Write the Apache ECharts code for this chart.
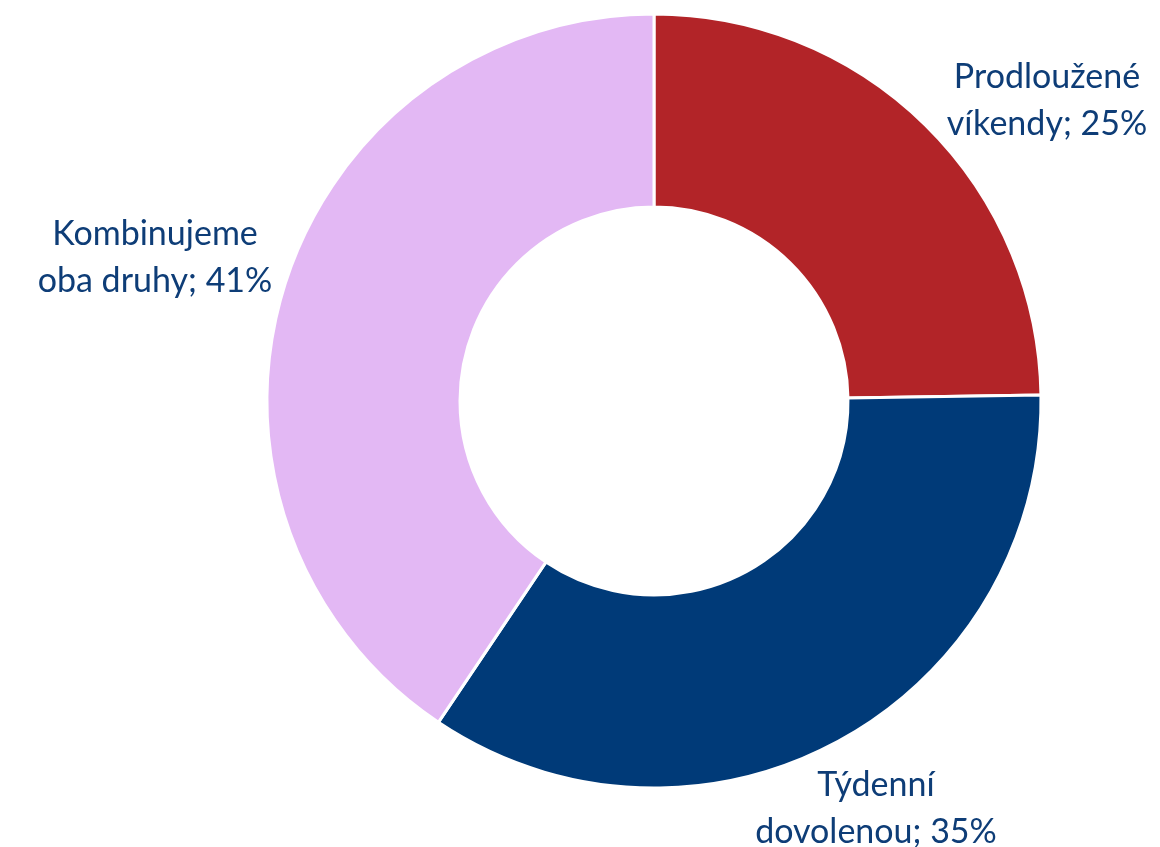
<!DOCTYPE html>
<html><head><meta charset="utf-8">
<script src="https://cdn.jsdelivr.net/npm/echarts@6/dist/echarts.min.js"></script>
<style>html,body{margin:0;padding:0;background:#fff}#c{width:1160px;height:847px}</style>
</head><body><div id="c"></div>
<script>
const categories = ['Prodloužené víkendy', 'Týdenní dovolenou', 'Kombinujeme oba druhy'];
const labelLines = [['Prodloužené', 'víkendy'], ['Týdenní', 'dovolenou'], ['Kombinujeme', 'oba druhy']];
const values = [25, 35, 41];
const colors = ['#B22428', '#003A78', '#E3B8F4'];
const labelPos = [[1047, 101], [876, 809], [155, 258]];

const chart = echarts.init(document.getElementById('c'));
chart.setOption({
  animation: false,
  series: [{
    type: 'pie',
    center: [654, 401],
    radius: [194, 387],
    startAngle: 90,
    clockwise: true,
    itemStyle: { borderColor: '#fff', borderWidth: 3 },
    label: {
      show: true,
      position: 'outside',
      overflow: 'none',
      color: '#0E3D77',
      fontFamily: 'Lato',
      fontSize: 34,
      lineHeight: 47,
      align: 'center',
      formatter: p => labelLines[p.dataIndex][0] + '\n' + labelLines[p.dataIndex][1] + '; ' + p.value + '%'
    },
    labelLine: { show: false },
    labelLayout: p => ({ x: labelPos[p.dataIndex][0], y: labelPos[p.dataIndex][1], align: 'center', verticalAlign: 'middle', hideOverlap: false }),
    data: categories.map((c, i) => ({ name: c, value: values[i], itemStyle: { color: colors[i] } }))
  }]
});
</script></body></html>
